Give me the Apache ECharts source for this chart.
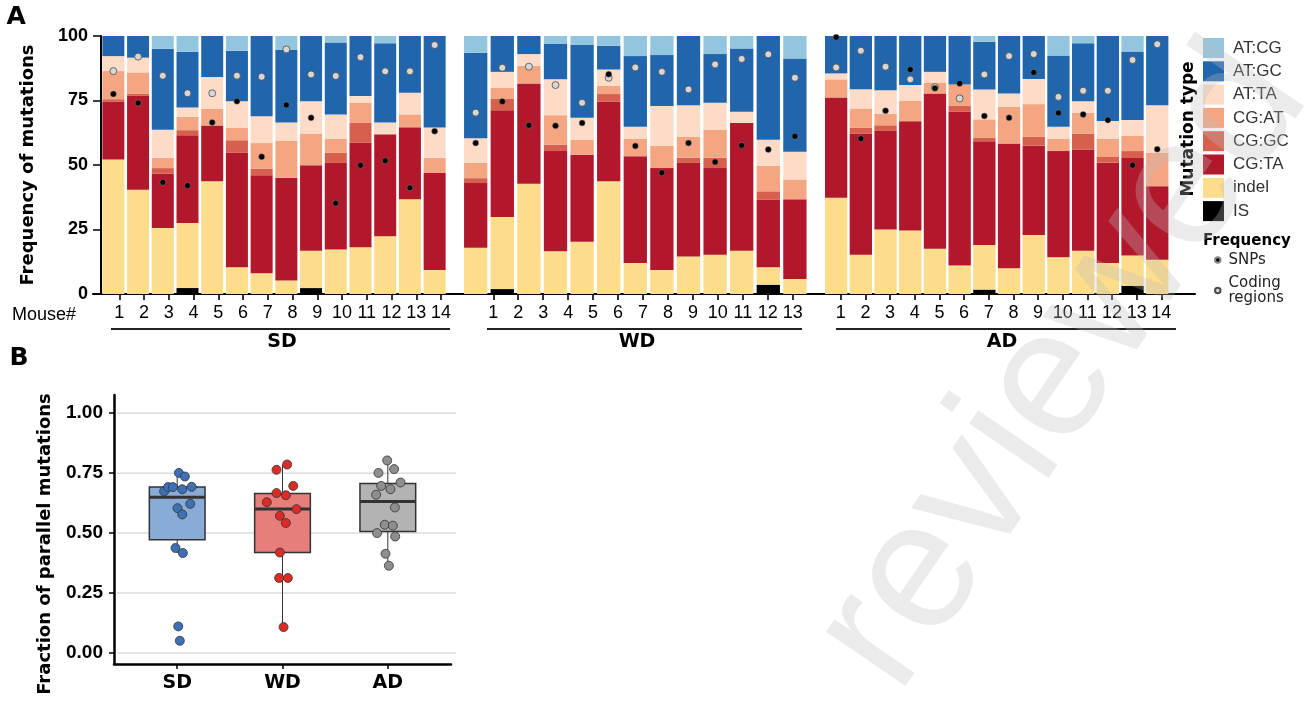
<!DOCTYPE html>
<html><head><meta charset="utf-8">
<script src="https://cdn.jsdelivr.net/npm/echarts@6/dist/echarts.min.js"></script>
<style>html,body{margin:0;padding:0;background:#fff}#c{width:1310px;height:705px}</style>
</head><body><div id="c"></div>
<script>
// ---------- DATA: panel A (mutation type fractions, %) ----------
const groupNames = ['SD', 'WD', 'AD'];
const sdMice = ['1','2','3','4','5','6','7','8','9','10','11','12','13','14'];
const wdMice = ['1','2','3','4','5','6','7','8','9','10','11','12','13'];
const adMice = ['1','2','3','4','5','6','7','8','9','10','11','12','13','14'];
// stacking order bottom -> top
const mutationTypes = ['IS', 'indel', 'CG:TA', 'CG:GC', 'CG:AT', 'AT:TA', 'AT:GC', 'AT:CG'];

const sd_IS    = [0, 0, 0, 2.3, 0, 0, 0, 0, 2.3, 0, 0, 0, 0, 0];
const sd_indel = [52.1, 40.4, 25.6, 25.2, 43.7, 10.4, 8.0, 5.2, 14.5, 17.2, 18.1, 22.4, 36.7, 9.3];
const sd_CGTA  = [22.4, 36.4, 21.0, 34.0, 21.5, 44.4, 38.0, 39.9, 33.1, 33.6, 40.6, 39.5, 27.9, 37.6];
const sd_CGGC  = [1.0, 0.9, 2.2, 2.0, 0.2, 4.8, 2.6, 0, 0, 3.9, 7.6, 0, 0, 0];
const sd_CGAT  = [10.9, 8.2, 4.0, 5.2, 6.3, 4.9, 9.9, 14.2, 12.3, 5.5, 7.8, 0, 5.0, 5.9];
const sd_ATTA  = [5.8, 5.7, 10.9, 3.6, 12.4, 10.2, 10.4, 7.2, 12.5, 9.4, 2.6, 4.6, 8.4, 11.7];
const sd_ATGC  = [7.8, 8.4, 31.3, 21.6, 16.1, 19.6, 31.1, 28.1, 25.3, 27.9, 23.3, 30.7, 22.0, 35.5];
const sd_ATCG  = [0, 0, 5.0, 6.1, 0, 5.7, 0, 5.4, 0, 2.5, 0, 2.8, 0, 0];

const wd_IS    = [0, 1.9, 0, 0, 0, 0, 0, 0, 0, 0, 0, 3.6, 0];
const wd_indel = [17.9, 27.9, 42.7, 16.6, 20.3, 43.7, 12.0, 9.3, 14.5, 15.2, 16.8, 6.8, 5.8];
const wd_CGTA  = [25.1, 41.4, 38.9, 38.8, 33.7, 30.8, 41.4, 39.5, 36.3, 33.6, 49.5, 26.1, 30.9];
const wd_CGGC  = [1.9, 4.4, 0, 2.5, 0, 3.0, 0, 0, 2.0, 4.0, 0, 3.3, 0];
const wd_CGAT  = [5.9, 4.3, 6.9, 11.4, 5.8, 3.2, 6.8, 8.6, 8.1, 10.9, 0, 9.9, 7.7];
const wd_ATTA  = [9.6, 6.2, 4.5, 13.9, 8.5, 6.3, 4.6, 15.5, 12.3, 10.4, 4.3, 10.1, 10.7];
const wd_ATGC  = [33.1, 13.9, 7.0, 13.7, 28.2, 9.2, 27.4, 19.7, 26.8, 18.9, 24.6, 40.2, 36.2];
const wd_ATCG  = [6.5, 0, 0, 3.1, 3.5, 3.8, 7.8, 7.4, 0, 7.0, 4.8, 0, 8.7];

const ad_IS    = [0, 0, 0, 0, 0, 0, 1.7, 0, 0, 0, 0, 0, 3.2, 0];
const ad_indel = [37.3, 15.2, 25.0, 24.6, 17.5, 11.0, 17.3, 10.0, 22.9, 14.2, 16.8, 12.0, 11.7, 13.3];
const ad_CGTA  = [38.9, 47.0, 38.2, 42.4, 60.2, 59.6, 40.2, 48.3, 34.7, 41.2, 39.2, 38.9, 37.8, 28.5];
const ad_CGGC  = [0, 2.3, 2.2, 0, 0, 2.3, 1.3, 0, 3.3, 0, 6.2, 2.2, 2.7, 0];
const ad_CGAT  = [7.0, 7.4, 4.5, 7.9, 4.3, 8.3, 7.2, 14.2, 12.7, 4.8, 8.1, 7.1, 5.9, 13.0];
const ad_ATTA  = [2.3, 7.5, 9.1, 6.1, 4.1, 0, 11.6, 5.2, 9.7, 4.6, 4.4, 6.9, 6.1, 18.4];
const ad_ATGC  = [14.5, 20.6, 21.0, 19.0, 13.9, 18.8, 18.5, 22.3, 16.7, 27.6, 22.5, 32.9, 26.6, 26.8];
const ad_ATCG  = [0, 0, 0, 0, 0, 0, 2.2, 0, 0, 7.6, 2.8, 0, 6.0, 0];

// frequency dots
const sd_SNP    = [77.5, 74.0, 43.3, 42.0, 66.5, 74.7, 53.2, 73.3, 68.3, 35.2, 49.9, 51.6, 41.2, 63.1];
const sd_coding = [86.4, 92.0, 84.6, 77.8, 77.8, 84.6, 84.2, 94.8, 85.1, 84.5, 91.8, 86.3, 86.3, 96.5];
const wd_SNP    = [58.5, 74.6, 65.4, 65.2, 66.3, 85.2, 57.4, 47.0, 58.5, 51.2, 57.6, 56.0, 61.1];
const wd_coding = [70.3, 87.7, 88.1, 81.0, 74.1, 83.8, 87.8, 86.1, 79.3, 89.0, 91.1, 92.9, 83.8];
const ad_SNP    = [99.5, 60.2, 71.0, 87.0, 79.7, 81.6, 69.0, 68.3, 85.9, 70.2, 69.6, 67.4, 49.9, 56.1];
const ad_coding = [87.8, 94.3, 88.1, 83.2, 80.2, 75.8, 85.1, 92.2, 93.0, 76.4, 78.8, 78.8, 90.7, 96.8];

// ---------- DATA: panel B (fraction of parallel mutations) ----------
const sdX = [1.016, 1.073, 0.876, 0.914, 0.959, 1.048, 1.137, 1.003, 1.124, 1.048, 0.984, 1.054, 1.010, 1.025];
const sdY = [0.751, 0.736, 0.674, 0.692, 0.692, 0.683, 0.693, 0.604, 0.622, 0.578, 0.438, 0.417, 0.111, 0.051];
const wdX = [2.044, 1.943, 2.102, 1.943, 2.032, 1.851, 2.133, 1.975, 2.032, 1.975, 1.968, 2.051, 2.010];
const wdY = [0.786, 0.764, 0.697, 0.667, 0.658, 0.629, 0.600, 0.572, 0.542, 0.419, 0.313, 0.313, 0.108];
const adX = [2.994, 2.911, 3.060, 3.121, 2.937, 3.025, 2.889, 3.067, 2.971, 3.048, 2.898, 3.070, 2.978, 3.010];
const adY = [0.803, 0.751, 0.767, 0.711, 0.697, 0.683, 0.660, 0.607, 0.535, 0.531, 0.500, 0.486, 0.414, 0.364];
// [lower whisker, Q1, median, Q3, upper whisker]
const sdBox = [0.417, 0.472, 0.650, 0.692, 0.743];
const wdBox = [0.108, 0.419, 0.601, 0.665, 0.786];
const adBox = [0.361, 0.507, 0.632, 0.707, 0.803];
const yTicksB = [0, 0.25, 0.5, 0.75, 1.0];

// ---------- STYLES / LAYOUT ----------
const typeColors = {
  'IS': '#000000', 'indel': '#fddd8c', 'CG:TA': '#b2182b', 'CG:GC': '#d6604d',
  'CG:AT': '#f4a582', 'AT:TA': '#fddbc7', 'AT:GC': '#2166ac', 'AT:CG': '#92c5de'
};
const boxFill = ['#89abd6', '#e67f7c', '#b3b3b3'];
const pointFill = ['#3e70b6', '#dc2a26', '#8e8e8e'];
const barGrids = [{left: 101, width: 346}, {left: 462.4, width: 345.8}, {left: 823.8, width: 345.8}];
const barWidths = [22, 23.3, 22.3];
const labelGrids = [{left: 106.9, width: 346.5}, {left: 480.8, width: 324.4}, {left: 828.4, width: 345.3}];
const underlines = [[111, 450], [487, 802], [836, 1176]];
const groupLabelX = [282, 637, 1002];

const groupMice = [sdMice, wdMice, adMice];
const groupData = [
  {'IS': sd_IS, 'indel': sd_indel, 'CG:TA': sd_CGTA, 'CG:GC': sd_CGGC, 'CG:AT': sd_CGAT, 'AT:TA': sd_ATTA, 'AT:GC': sd_ATGC, 'AT:CG': sd_ATCG},
  {'IS': wd_IS, 'indel': wd_indel, 'CG:TA': wd_CGTA, 'CG:GC': wd_CGGC, 'CG:AT': wd_CGAT, 'AT:TA': wd_ATTA, 'AT:GC': wd_ATGC, 'AT:CG': wd_ATCG},
  {'IS': ad_IS, 'indel': ad_indel, 'CG:TA': ad_CGTA, 'CG:GC': ad_CGGC, 'CG:AT': ad_CGAT, 'AT:TA': ad_ATTA, 'AT:GC': ad_ATGC, 'AT:CG': ad_ATCG}
];
const groupSNP = [sd_SNP, wd_SNP, ad_SNP];
const groupCoding = [sd_coding, wd_coding, ad_coding];
const groupPts = [[sdX, sdY], [wdX, wdY], [adX, adY]];
const groupBox = [sdBox, wdBox, adBox];

const chart = echarts.init(document.getElementById('c'), null, {renderer: 'canvas', width: 1310, height: 705});

const grids = [];
const xAxes = [];
const yAxes = [];
// bar grids 0..2
barGrids.forEach((g, i) => {
  grids.push({left: g.left, width: g.width, top: 36, height: 258});
  xAxes.push({type: 'category', gridIndex: i, data: groupMice[i], show: false});
  if (i === 0) {
    yAxes.push({type: 'value', gridIndex: 0, min: 0, max: 100, interval: 25,
      axisLine: {show: true, lineStyle: {color: '#000', width: 2}},
      axisTick: {show: true, length: 8, lineStyle: {color: '#000', width: 1.5}},
      axisLabel: {margin: 13, fontFamily: 'Liberation Sans', fontWeight: 'bold', fontSize: 18, color: '#000'},
      splitLine: {show: false}});
  } else {
    yAxes.push({type: 'value', gridIndex: i, min: 0, max: 100, show: false});
  }
});
// grid 3: continuous x axis line of panel A
grids.push({left: 93, width: 1102, top: 36, height: 258});
xAxes.push({type: 'value', gridIndex: 3, min: 0, max: 1,
  axisLine: {show: true, onZero: false, lineStyle: {color: '#000', width: 2}},
  axisTick: {show: false}, axisLabel: {show: false}, splitLine: {show: false}});
yAxes.push({type: 'value', gridIndex: 3, min: 0, max: 1, show: false});
// grids 4..6: mouse tick labels
labelGrids.forEach((g, i) => {
  grids.push({left: g.left, width: g.width, top: 36, height: 258});
  xAxes.push({type: 'category', gridIndex: 4 + i, data: groupMice[i],
    axisLine: {show: false},
    axisTick: {show: true, alignWithLabel: true, interval: 0, length: 6, lineStyle: {color: '#000', width: 1.6}},
    axisLabel: {interval: 0, margin: 10, fontFamily: 'Liberation Sans', fontSize: 18, color: '#000'}});
  yAxes.push({type: 'value', gridIndex: 4 + i, min: 0, max: 1, show: false});
});
// grid 7: panel B
grids.push({left: 114, width: 337, top: 395, height: 269});
xAxes.push({type: 'value', gridIndex: 7, min: 0.4, max: 3.6,
  axisLine: {show: true, onZero: false, lineStyle: {color: '#000', width: 2.5}},
  axisTick: {show: true, customValues: [1, 2, 3], length: 5, lineStyle: {color: '#000', width: 1.5}},
  axisLabel: {customValues: [1, 2, 3], formatter: v => groupNames[Math.round(v) - 1], margin: 10,
    fontFamily: 'DejaVu Sans', fontWeight: 'bold', fontSize: 19, color: '#000'},
  splitLine: {show: false}});
yAxes.push({type: 'value', gridIndex: 7, min: -0.0458, max: 1.076,
  axisLine: {show: true, onZero: false, lineStyle: {color: '#000', width: 2.5}},
  axisTick: {show: true, customValues: yTicksB, length: 5, lineStyle: {color: '#000', width: 1.5}},
  axisLabel: {customValues: yTicksB, formatter: v => v.toFixed(2), margin: 11,
    fontFamily: 'Liberation Sans', fontWeight: 'bold', fontSize: 19, color: '#000'},
  splitLine: {show: false}});

const series = [];
// stacked bars
groupData.forEach((gd, gi) => {
  mutationTypes.forEach(t => {
    series.push({type: 'bar', name: t, stack: 'stack' + gi, xAxisIndex: gi, yAxisIndex: gi,
      data: gd[t], barWidth: barWidths[gi], itemStyle: {color: typeColors[t]}, z: 2});
  });
  series.push({type: 'scatter', name: 'Coding regions', xAxisIndex: gi, yAxisIndex: gi,
    data: groupCoding[gi], symbolSize: 7,
    itemStyle: {color: '#d6d6d6', borderColor: '#4d4d4d', borderWidth: 0.8, opacity: 1}, z: 4});
  series.push({type: 'scatter', name: 'SNPs', xAxisIndex: gi, yAxisIndex: gi,
    data: groupSNP[gi], symbolSize: 6,
    itemStyle: {color: '#000', borderColor: '#888', borderWidth: 0.5, opacity: 1}, z: 5});
});
// panel B gridlines
series.push({type: 'custom', xAxisIndex: 7, yAxisIndex: 7, silent: true, z: 1,
  data: yTicksB.map(v => [0.43, v, 3.65]), encode: {x: [0, 2], y: 1},
  renderItem: (params, api) => {
    const p1 = api.coord([api.value(0), api.value(1)]);
    const p2 = api.coord([api.value(2), api.value(1)]);
    return {type: 'line', shape: {x1: p1[0], y1: p1[1], x2: p2[0], y2: p2[1]},
      style: {stroke: '#dcdcdc', lineWidth: 1.5}};
  }});
// panel B boxes
series.push({type: 'custom', xAxisIndex: 7, yAxisIndex: 7, silent: true, z: 2,
  data: groupBox.map((b, i) => [i + 1].concat(b)), encode: {x: 0, y: [1, 2, 3, 4, 5]},
  renderItem: (params, api) => {
    const x = api.value(0), hw = 0.2645;
    const lo = api.value(1), q1 = api.value(2), med = api.value(3), q3 = api.value(4), hi = api.value(5);
    const pTL = api.coord([x - hw, q3]), pBR = api.coord([x + hw, q1]);
    const pLo = api.coord([x, lo]), pQ1 = api.coord([x, q1]), pQ3 = api.coord([x, q3]), pHi = api.coord([x, hi]);
    const mL = api.coord([x - hw, med]), mR = api.coord([x + hw, med]);
    return {type: 'group', children: [
      {type: 'line', shape: {x1: pHi[0], y1: pHi[1], x2: pQ3[0], y2: pQ3[1]}, style: {stroke: '#333', lineWidth: 1}},
      {type: 'line', shape: {x1: pLo[0], y1: pLo[1], x2: pQ1[0], y2: pQ1[1]}, style: {stroke: '#333', lineWidth: 1}},
      {type: 'rect', shape: {x: pTL[0], y: pTL[1], width: pBR[0] - pTL[0], height: pBR[1] - pTL[1]},
        style: {fill: boxFill[params.dataIndex], stroke: '#333', lineWidth: 1.5}},
      {type: 'line', shape: {x1: mL[0], y1: mL[1], x2: mR[0], y2: mR[1]}, style: {stroke: '#333', lineWidth: 3}}
    ]};
  }});
// panel B points
groupPts.forEach((p, gi) => {
  series.push({type: 'scatter', name: groupNames[gi] + ' points', xAxisIndex: 7, yAxisIndex: 7,
    data: p[0].map((x, k) => [x, p[1][k]]), symbolSize: 9, z: 3,
    itemStyle: {color: pointFill[gi], borderColor: '#333', borderWidth: 0.8, opacity: 1}});
});

const txt = (x, y, text, font, align, extra) => Object.assign({type: 'text', x: x, y: y,
  style: {text: text, font: font, fill: '#000', textAlign: align || 'left', textVerticalAlign: 'middle'}}, extra || {});

const graphic = [
  txt(6.5, 17, 'A', 'bold 25px "DejaVu Sans"'),
  txt(9.5, 358.5, 'B', 'bold 25px "DejaVu Sans"'),
  txt(28.5, 165, 'Frequency of mutations', 'bold 18px "DejaVu Sans"', 'center', {rotation: Math.PI / 2}),
  txt(45, 544, 'Fraction of parallel mutations', 'bold 18px "DejaVu Sans"', 'center', {rotation: Math.PI / 2}),
  txt(12, 315.5, 'Mouse#', '18px "Liberation Sans"'),
  txt(1188.5, 129, 'Mutation type', 'bold 17px "DejaVu Sans"', 'center', {rotation: Math.PI / 2}),
  txt(1203, 241, 'Frequency', 'bold 15px "DejaVu Sans"')
];
underlines.forEach((u, i) => {
  graphic.push({type: 'line', shape: {x1: u[0], y1: 329, x2: u[1], y2: 329}, style: {stroke: '#222', lineWidth: 2}});
  graphic.push(txt(groupLabelX[i], 342, groupNames[i], 'bold 19px "DejaVu Sans"', 'center'));
});
// watermark
graphic.push({type: 'text', x: 857, y: 668, rotation: 0.9687, z: 100, silent: true,
  style: {text: 'reviewed', font: '182px "Liberation Sans"', fill: 'rgba(190,190,190,0.3)',
    textAlign: 'left', textVerticalAlign: 'middle'}});

const option = {
  animation: false,
  backgroundColor: '#fff',
  grid: grids, xAxis: xAxes, yAxis: yAxes,
  legend: [
    {data: mutationTypes.slice().reverse(), orient: 'vertical', left: 1203, top: 38, padding: 0,
      itemWidth: 21, itemHeight: 20, itemGap: 3.3, icon: 'rect', selectedMode: false,
      textStyle: {fontFamily: 'Liberation Sans', fontSize: 17, color: '#333', lineHeight: 20, padding: [0, 0, 0, 4]}},
    {data: ['SNPs', 'Coding regions'], orient: 'vertical', left: 1214, top: 252.5, padding: 0,
      itemWidth: 5.5, itemHeight: 5.5, itemGap: 8, icon: 'circle', selectedMode: false,
      formatter: n => n === 'Coding regions' ? 'Coding\nregions' : n,
      textStyle: {fontFamily: 'DejaVu Sans', fontSize: 15, color: '#222', lineHeight: 15, padding: [0, 0, 0, 3]}}
  ],
  graphic: graphic,
  series: series
};
chart.setOption(option);
</script>
</body></html>
